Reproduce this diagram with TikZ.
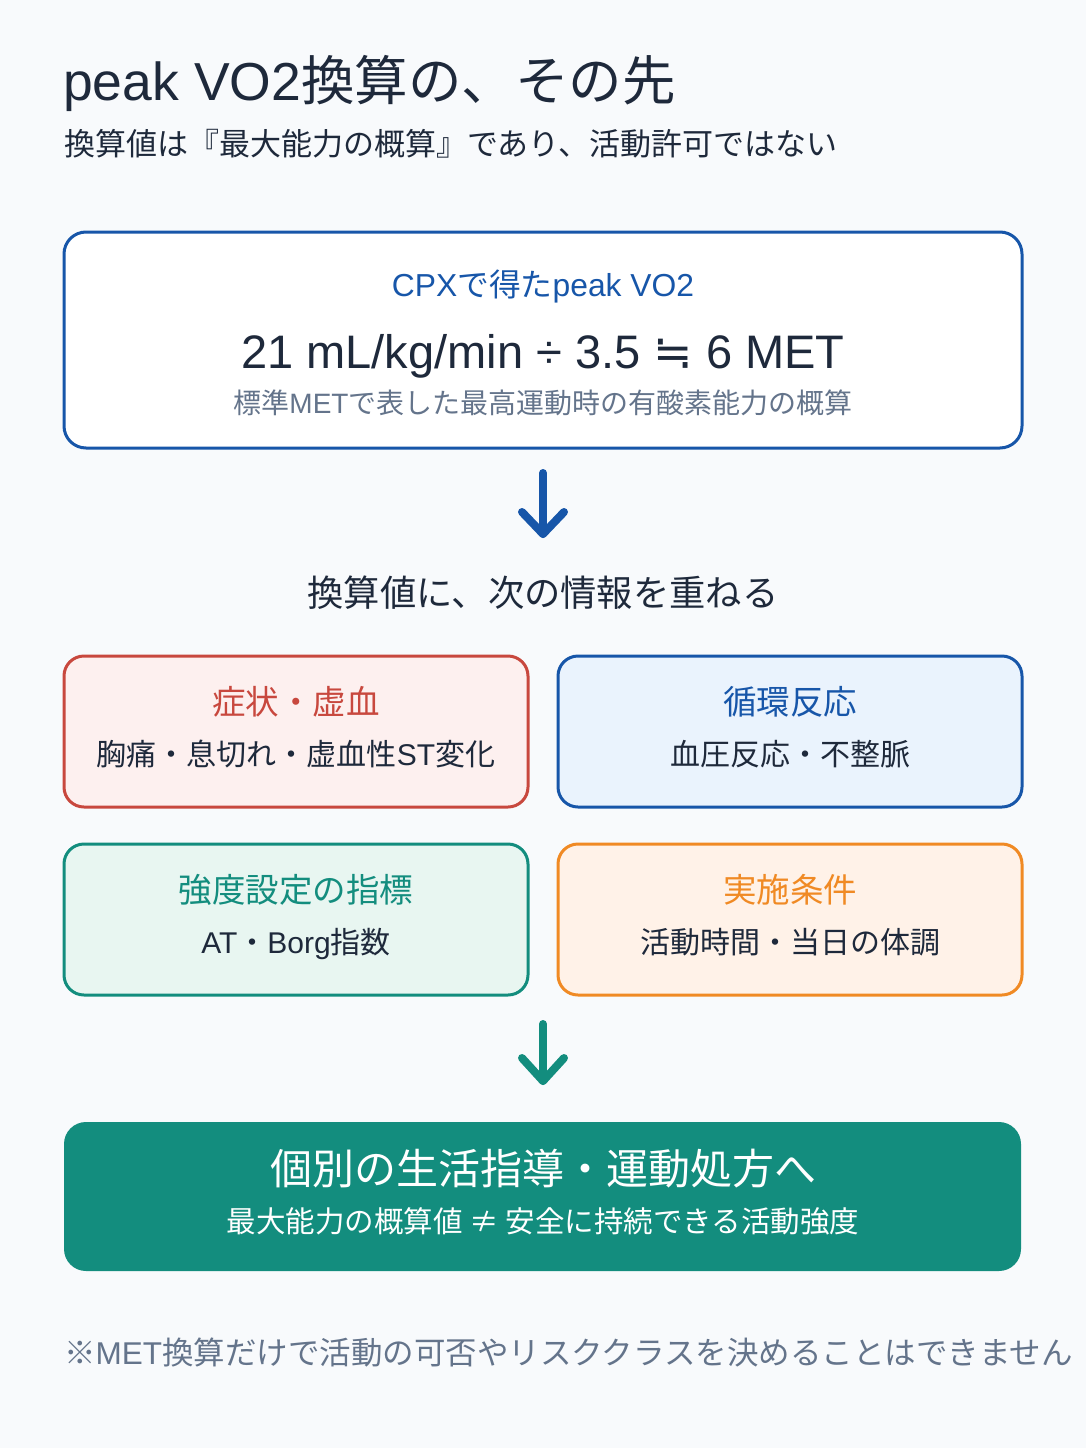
\documentclass[tikz,border=0pt]{standalone}
\usepackage{fontspec}
\setmainfont{Noto Sans CJK JP}
\newfontfamily\lat{Liberation Sans}
\newfontfamily\sym{DejaVu Sans}
\usetikzlibrary{positioning}
\definecolor{bgc}{HTML}{F8FAFC}
\definecolor{ink}{HTML}{1E293B}
\definecolor{grayt}{HTML}{64748B}
\definecolor{blu}{HTML}{1756A9}
\definecolor{blufill}{HTML}{EAF3FD}
\definecolor{redb}{HTML}{C8483E}
\definecolor{redfill}{HTML}{FDF0EF}
\definecolor{teal}{HTML}{138D7E}
\definecolor{tealfill}{HTML}{E8F6F1}
\definecolor{orng}{HTML}{F08A24}
\definecolor{orngfill}{HTML}{FFF2E8}
\tikzset{
  txt/.style={inner sep=0pt, anchor=base},
  card/.style={rounded corners=20pt, line width=3pt},
  arr/.style={line width=8pt, line cap=round, line join=round},
}
\begin{document}
\begin{tikzpicture}[x=1pt,y=-1pt]
\fill[bgc] (0,0) rectangle (1086,1448);
\useasboundingbox (0,0) rectangle (1086,1448);
% title
\node[txt, anchor=base west, text=ink, font=\fontsize{53.5}{60}\selectfont] (title) at (63,100) {{\lat peak VO2}換算の、その先};
\node[txt, anchor=base west, text=ink, font=\fontsize{31}{36}\selectfont] (subtitle) at (64,155) {換算値は『最大能力の概算』であり、活動許可ではない};
% box 1
\draw[card, draw=blu, fill=white, rounded corners=22pt] (64,232) rectangle (1022,448);
\coordinate (b1bottom) at (543,448);
\node[txt, text=blu, font=\fontsize{31.8}{36}\selectfont] (cpx) at (543,296) {{\lat CPX}で得た{\lat peak VO2}};
\node[txt, text=ink, font=\fontsize{47}{52}\selectfont] (eq) at (543,368) {{\lat 21 mL/kg/min ÷ 3.5 }{\sym ≒}{\lat\ 6 MET}};
\node[txt, text=grayt, font=\fontsize{28}{34}\selectfont] (eqnote) at (543,413) {標準{\lat MET}で表した最高運動時の有酸素能力の概算};
% arrow 1
\coordinate (a1s) at (543,473);
\coordinate (a1e) at (543,534);
\draw[arr, blu] (a1s) -- (a1e);
\draw[arr, blu] (522,512) -- (a1e) -- (564,512);
% middle text
\node[txt, text=ink, font=\fontsize{36.3}{40}\selectfont] (mid) at (543,606) {換算値に、次の情報を重ねる};
% four cards
\draw[card, draw=redb, fill=redfill] (64,656) rectangle (528,807);
\node[txt, text=redb, font=\fontsize{33.5}{38}\selectfont] (c1t) at (296,714) {症状・虚血};
\node[txt, text=ink, font=\fontsize{30}{34}\selectfont] (c1s) at (296,765) {胸痛・息切れ・虚血性{\lat ST}変化};
\draw[card, draw=blu, fill=blufill] (558,656) rectangle (1022,807);
\node[txt, text=blu, font=\fontsize{33.5}{38}\selectfont] (c2t) at (790,714) {循環反応};
\node[txt, text=ink, font=\fontsize{30}{34}\selectfont] (c2s) at (790,765) {血圧反応・不整脈};
\draw[card, draw=teal, fill=tealfill] (64,844) rectangle (528,995);
\node[txt, text=teal, font=\fontsize{33.5}{38}\selectfont] (c3t) at (296,902) {強度設定の指標};
\node[txt, text=ink, font=\fontsize{30}{34}\selectfont] (c3s) at (296,953) {{\lat AT}・{\lat Borg}指数};
\draw[card, draw=orng, fill=orngfill] (558,844) rectangle (1022,995);
\node[txt, text=orng, font=\fontsize{33.5}{38}\selectfont] (c4t) at (790,902) {実施条件};
\node[txt, text=ink, font=\fontsize{30}{34}\selectfont] (c4s) at (790,953) {活動時間・当日の体調};
% arrow 2
\coordinate (a2s) at (543,1024);
\coordinate (a2e) at (543,1081);
\draw[arr, teal] (a2s) -- (a2e);
\draw[arr, teal] (522,1058) -- (a2e) -- (564,1058);
% bottom box
\fill[teal, rounded corners=22pt] (64,1122) rectangle (1021,1271);
\node[txt, text=white, font=\fontsize{42}{46}\selectfont] (fin) at (543,1184) {個別の生活指導・運動処方へ};
\node[txt, text=white, font=\fontsize{29.5}{34}\selectfont] (finsub) at (543,1232) {最大能力の概算値 ≠ 安全に持続できる活動強度};
% footnote
\node[txt, anchor=base west, text=grayt, font=\fontsize{31.5}{36}\selectfont] (foot) at (64,1364) {※{\lat MET}換算だけで活動の可否やリスククラスを決めることはできません};
\end{tikzpicture}
\end{document}
